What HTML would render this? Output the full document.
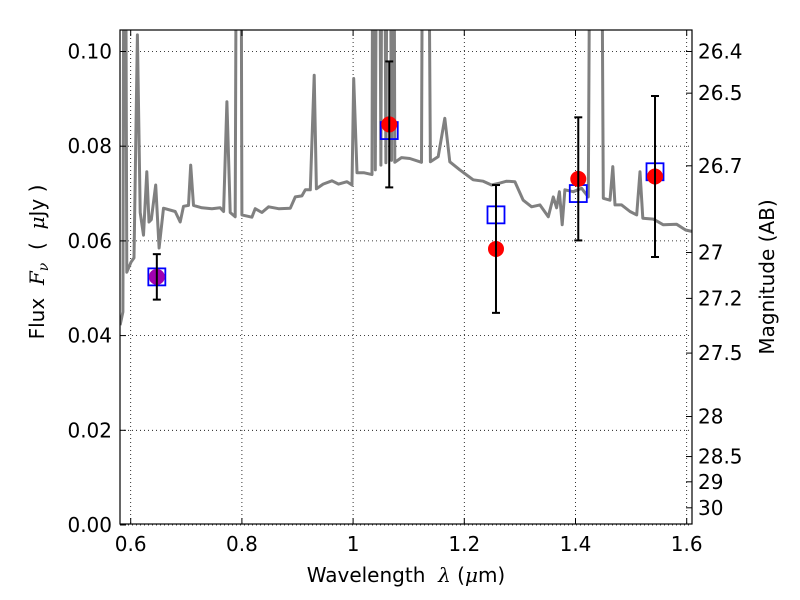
<!DOCTYPE html>
<html><head><meta charset="utf-8"><style>
html,body{margin:0;padding:0;background:#fff;}
</style></head><body>
<svg id="chart" width="800" height="600" xmlns="http://www.w3.org/2000/svg" style="position:absolute;left:0;top:0"></svg>
<script>
const xTicks=[0.6,0.8,1.0,1.2,1.4,1.6];
const xTickLabels=["0.6","0.8","1","1.2","1.4","1.6"];
const yTicks=[0,0.02,0.04,0.06,0.08,0.10];
const yTickLabels=["0.00","0.02","0.04","0.06","0.08","0.10"];
const magTicks=[26.4,26.5,26.7,27,27.2,27.5,28,28.5,29,30];
const magTickLabels=["26.4","26.5","26.7","27","27.2","27.5","28","28.5","29","30"];
const specWave=[0.581,0.586,0.589,0.593,0.6005,0.606,0.612,0.617,0.623,0.629,0.633,0.637,0.645,0.651,0.659,0.680,0.689,0.695,0.704,0.708,0.713,0.728,0.746,0.761,0.767,0.773,0.779,0.788,0.792,0.797,0.800,0.818,0.824,0.836,0.848,0.866,0.887,0.896,0.908,0.914,0.923,0.930,0.934,0.946,0.962,0.974,0.989,0.998,1.001,1.007,1.019,1.034,1.037,1.040,1.045,1.050,1.054,1.059,1.064,1.069,1.072,1.075,1.087,1.102,1.123,1.127,1.132,1.139,1.153,1.165,1.174,1.192,1.216,1.234,1.249,1.264,1.276,1.291,1.306,1.321,1.336,1.351,1.360,1.366,1.371,1.376,1.381,1.396,1.411,1.423,1.429,1.444,1.450,1.462,1.467,1.471,1.483,1.498,1.510,1.516,1.521,1.540,1.558,1.582,1.598,1.609];
const specFlux=[0.0422,0.045,0.2,0.0534,0.0555,0.0564,0.1035,0.066,0.0612,0.0746,0.064,0.0645,0.0718,0.0585,0.0669,0.0662,0.064,0.0673,0.0675,0.076,0.0675,0.067,0.0668,0.067,0.0662,0.0894,0.066,0.0651,0.2,0.2,0.0655,0.065,0.0668,0.066,0.0672,0.0668,0.0669,0.0693,0.0695,0.0708,0.0708,0.095,0.071,0.072,0.0727,0.072,0.0725,0.0718,0.0943,0.0744,0.0744,0.074,0.2,0.075,0.2,0.076,0.2,0.0765,0.2,0.077,0.2,0.0766,0.0776,0.0774,0.0766,0.2,0.2,0.0767,0.0778,0.0859,0.0767,0.075,0.0729,0.0726,0.0718,0.0722,0.0726,0.0725,0.0686,0.0672,0.0676,0.0651,0.0693,0.067,0.0704,0.0634,0.0708,0.0704,0.0711,0.0693,0.2,0.2,0.069,0.0686,0.0757,0.0676,0.0676,0.0662,0.0655,0.0746,0.0648,0.0646,0.0634,0.0635,0.0623,0.062];
const obsWave=[0.647,1.065,1.257,1.405,1.543];
const obsFlux=[0.0524,0.0846,0.0583,0.0731,0.0736];
const obsErr=[0.0048,0.0133,0.0135,0.013,0.017];
const obsColor=["#a000b0","red","red","red","red"];
const modelFlux=[0.0524,0.0833,0.0655,0.070,0.0746];

const L=120,R=692,T=30,B=524;
const X=v=>130.7+(v-0.6)*556;
const Y=v=>525-v*4735;
const FONT='"DejaVu Sans","Liberation Sans",sans-serif';
const svg=document.getElementById('chart');
const NS="http://www.w3.org/2000/svg";
function mk(tag,attrs,parent){const e=document.createElementNS(NS,tag);for(const k in attrs)e.setAttribute(k,attrs[k]);(parent||svg).appendChild(e);return e;}

const defs=mk('defs',{});
const cp=mk('clipPath',{id:'clip'},defs);
mk('rect',{x:L,y:T,width:R-L,height:B-T},cp);

const grid=mk('g',{});


xTicks.forEach(t=>{mk('line',{x1:X(t),x2:X(t),y1:T,y2:B,stroke:'#000','stroke-width':0.8,'stroke-dasharray':'1,3'},grid);});
yTicks.forEach(t=>{mk('line',{x1:L,x2:R,y1:Y(t),y2:Y(t),stroke:'#000','stroke-width':0.8,'stroke-dasharray':'1,3'},grid);});

const plot=mk('g',{'clip-path':'url(#clip)'});
let d='';
specWave.forEach((w,i)=>{d+=(i?'L':'M')+X(w).toFixed(1)+','+Y(specFlux[i]).toFixed(1);});
const sp=mk('path',{d:d,fill:'none',stroke:'#808080','stroke-width':3,'stroke-linejoin':'round'},plot);



obsWave.forEach((w,i)=>{
  const s=mk('rect',{x:X(w)-8.5,y:Y(modelFlux[i])-8.5,width:17,height:17,fill:'none',stroke:'#0000ff','stroke-width':1.8},plot);
  
  
});
obsWave.forEach((w,i)=>{
  const c=mk('circle',{cx:X(w),cy:Y(obsFlux[i]),r:8,fill:obsColor[i]},plot);
  
  
  const g=mk('g',{stroke:'#000','stroke-width':2},plot);
  
  
  const x=X(w),y1=Y(obsFlux[i]+obsErr[i]),y2=Y(obsFlux[i]-obsErr[i]);
  mk('line',{x1:x,x2:x,y1:y1,y2:y2},g);
  mk('line',{x1:x-4,x2:x+4,y1:y1,y2:y1},g);
  mk('line',{x1:x-4,x2:x+4,y1:y2,y2:y2},g);
});

const fr=mk('rect',{x:L,y:T,width:R-L,height:B-T,fill:'none',stroke:'#000','stroke-width':1.2});



xTicks.forEach((t,i)=>{
  mk('line',{x1:X(t),x2:X(t),y1:B,y2:B-6,stroke:'#000'});
  mk('line',{x1:X(t),x2:X(t),y1:T,y2:T+6,stroke:'#000'});
  const tx=mk('text',{x:X(t),y:B+27,'font-size':20,'text-anchor':'middle','font-family':FONT});
  tx.textContent=xTickLabels[i];
  
  
});
yTicks.forEach((t,i)=>{
  mk('line',{x1:L,x2:L+6,y1:Y(t),y2:Y(t),stroke:'#000'});
  const tx=mk('text',{x:L-8,y:Y(t)+7,'font-size':20,'text-anchor':'end','font-family':FONT});
  tx.textContent=yTickLabels[i];
  
  
});
magTicks.forEach((m,i)=>{
  const f=Math.pow(10,(23.9-m)/2.5);
  const y=Y(f);
  mk('line',{x1:R,x2:R-6,y1:y,y2:y,stroke:'#000'});
  const tx=mk('text',{x:R+6,y:y+7,'font-size':20,'text-anchor':'start','font-family':FONT});
  tx.textContent=magTickLabels[i];
  
  
});
</script>
<svg width="800" height="600" style="position:absolute;left:0;top:0" xmlns="http://www.w3.org/2000/svg" font-family="DejaVu Sans, Liberation Sans, sans-serif">
<text x="406" y="582" font-size="20" text-anchor="middle">Wavelength&#160; <tspan font-family="DejaVu Serif, Liberation Serif, serif" font-style="italic">λ</tspan> (<tspan font-family="DejaVu Serif, Liberation Serif, serif" font-style="italic">μ</tspan>m)</text>
<text transform="translate(44,262) rotate(-90)" font-size="20" text-anchor="middle">Flux&#160; <tspan font-family="DejaVu Serif, Liberation Serif, serif" font-style="italic">F</tspan><tspan font-family="DejaVu Serif, Liberation Serif, serif" font-style="italic" font-size="14" dy="4">ν</tspan><tspan dy="-4">&#160; (&#160; </tspan><tspan font-family="DejaVu Serif, Liberation Serif, serif" font-style="italic">μ</tspan>Jy )</text>
<text transform="translate(774,277) rotate(-90)" font-size="20" text-anchor="middle">Magnitude (AB)</text>
</svg>
</body></html>
